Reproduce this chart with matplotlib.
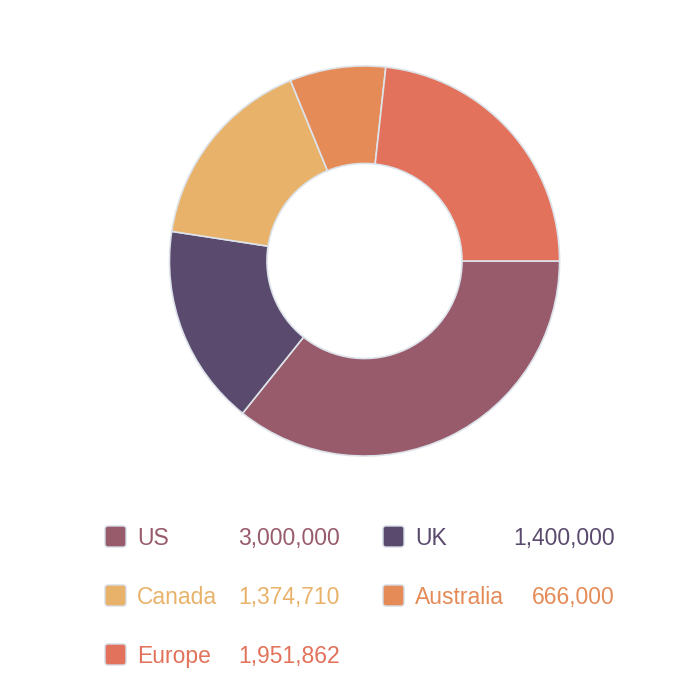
import matplotlib.pyplot as plt
from matplotlib.patches import FancyBboxPatch

labels = ["US", "UK", "Canada", "Australia", "Europe"]
values = [3000000, 1400000, 1374710, 666000, 1951862]
colors = ["#985b6b", "#5a4a6e", "#e9b26a", "#e58b58", "#e2725b"]

plt.rcParams["font.family"] = ["Liberation Sans", "DejaVu Sans"]

W = H = 700
fig = plt.figure(figsize=(7, 7), dpi=100)

# donut, centre at (364.5, 261) px, outer radius ~197 px
cx, cy, r = 364.5, 261, 197
ax = fig.add_axes([(cx - r) / W, 1 - (cy + r) / H, 2 * r / W, 2 * r / H])
ax.pie(values, colors=colors, startangle=0, counterclock=False, radius=1,
       wedgeprops=dict(width=0.5, edgecolor="#dde3ea", linewidth=1.2))
ax.set_xlim(-1.01, 1.01)
ax.set_ylim(-1.01, 1.01)
ax.set_aspect("equal")
ax.axis("off")

# legend, two columns
col_x = [105, 383]
val_x = [340, 615]
row_y = [537, 596, 655]
for i, (lab, v, c) in enumerate(zip(labels, values, colors)):
    col = i % 2
    row = i // 2
    x0 = col_x[col]
    y0 = row_y[row]
    sq = FancyBboxPatch(((x0) / W, 1 - (y0 + 10) / H), 21 / W, 21 / H,
                        boxstyle="round,pad=0,rounding_size=0.004",
                        transform=fig.transFigure, facecolor=c,
                        edgecolor="#d5dde6", linewidth=1)
    fig.patches.append(sq)
    fig.text((x0 + 32) / W, 1 - (y0 + 8) / H, lab, color=c, fontsize=16.5,
             ha="left", va="baseline")
    fig.text(val_x[col] / W, 1 - (y0 + 8) / H, f"{v:,}", color=c, fontsize=16.5,
             ha="right", va="baseline")

fig.savefig("out.png", dpi=100)
